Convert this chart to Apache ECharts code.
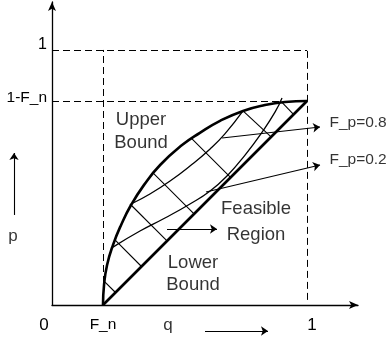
<!DOCTYPE html>
<html>
<head>
<meta charset="utf-8">
<script src="https://cdn.jsdelivr.net/npm/echarts@6/dist/echarts.min.js"></script>
<style>
  html, body { margin: 0; padding: 0; background: #fff; }
  #chart { width: 388px; height: 343px; }
</style>
</head>
<body>
<div id="chart"></div>
<script>
// Feasible region of (q, p) for F_n = 0.2, with the two bounds,
// the F_p = 0.8 / F_p = 0.2 curves and the cross hatching between the bounds.

const FONT = '"Liberation Sans", Arial, sans-serif';

// Axis tick labels
const xTickValues = [0, 0.2, 1];
const xTickText = ['0', 'F_n', '1'];
const yTickValues = [0.8, 1];
const yTickText = ['1-F_n', '1'];

// Upper bound curve, from (F_n, 0) to (1, 1-F_n)
const upperBound = [
  [0.2, 0], [0.204, 0.078], [0.216, 0.157], [0.239, 0.235], [0.271, 0.314],
  [0.31, 0.392], [0.361, 0.471], [0.424, 0.549], [0.51, 0.627], [0.58, 0.675],
  [0.659, 0.722], [0.749, 0.761], [0.835, 0.784], [0.914, 0.796], [1, 0.8]
];

// Lower bound (straight line)
const lowerBound = [[0.2, 0], [1, 0.8]];

// Curve for F_p = 0.8
const curveFp08 = [
  [0.318, 0.4], [0.384, 0.435], [0.463, 0.486], [0.541, 0.545],
  [0.62, 0.612], [0.678, 0.671], [0.749, 0.761]
];

// Curve for F_p = 0.2
const curveFp02 = [
  [0.239, 0.227], [0.345, 0.29], [0.443, 0.341], [0.541, 0.396], [0.62, 0.447],
  [0.69, 0.51], [0.757, 0.588], [0.824, 0.678], [0.875, 0.757], [0.902, 0.812]
];

// Cross hatching between the bounds
const hatches = [
  [[0.206, 0.092], [0.249, 0.049]],
  [[0.247, 0.255], [0.351, 0.151]],
  [[0.306, 0.396], [0.451, 0.251]],
  [[0.398, 0.516], [0.557, 0.357]],
  [[0.547, 0.653], [0.7, 0.5]],
  [[0.749, 0.761], [0.859, 0.659]],
  [[0.902, 0.794], [0.947, 0.747]]
];

// Dashed guide lines
const guides = [
  [[0.2, 0], [0.2, 1]],
  [[1, 0.02], [1, 1]],
  [[0, 1], [1, 1]],
  [[0, 0.8], [1, 0.8]]
];

// Pointer arrows
const arrows = [
  [[0.667, 0.655], [1.051, 0.698]],
  [[0.604, 0.443], [1.051, 0.549]],
  [[0.451, 0.298], [0.647, 0.298]],
  [[0.6, -0.102], [0.847, -0.102]],
  [[-0.149, 0.353], [-0.149, 0.596]]
];

// Text annotations and where they sit
const noteText = ['Upper', 'Bound', 'Lower', 'Bound', 'Feasible', 'Region', 'F_p=0.8', 'F_p=0.2', 'q', 'p'];
const noteAt = [
  [0.349, 0.724], [0.349, 0.637], [0.553, 0.167], [0.553, 0.078],
  [0.8, 0.375], [0.8, 0.276], [1.086, 0.716], [1.086, 0.569],
  [0.455, -0.078], [-0.153, 0.27]
];

function pick(values, texts, v) {
  for (let i = 0; i < values.length; i++) {
    if (Math.abs(values[i] - v) < 1e-6) return i;
  }
  return -1;
}

const xRich = ['{a|', '{b|', '{c|'];
const yRich = ['{a|', '{b|'];

const chart = echarts.init(document.getElementById('chart'), null, { renderer: 'canvas' });

const noteLabel = (t) => {
  if (t.indexOf('F_p') === 0) return { position: 'right', distance: 0, fontSize: 15.5 };
  if (t === 'q' || t === 'p') return { position: 'inside', fontSize: 17 };
  return { position: 'inside', fontSize: 18.5 };
};

chart.setOption({
  animation: false,
  backgroundColor: '#fff',
  grid: { left: 52, top: 2, width: 306, height: 303 },
  xAxis: {
    type: 'value', min: 0, max: 1.2,
    splitLine: { show: false },
    axisTick: { show: false },
    axisLine: {
      show: true, symbol: ['none', 'arrow'], symbolSize: [6, 9],
      lineStyle: { color: '#000', width: 1.3 }
    },
    axisLabel: {
      customValues: xTickValues,
      margin: 12,
      color: '#000',
      fontFamily: FONT,
      formatter: (v) => {
        const i = pick(xTickValues, xTickText, v);
        return i < 0 ? '' : xRich[i] + xTickText[i] + '}';
      },
      rich: {
        a: { fontSize: 17, fontFamily: FONT, color: '#000', padding: [0, 16, 0, 0] },
        b: { fontSize: 15.5, fontFamily: FONT, color: '#000' },
        c: { fontSize: 17, fontFamily: FONT, color: '#000', padding: [0, 0, 0, 10] }
      }
    }
  },
  yAxis: {
    type: 'value', min: 0, max: 1.188,
    splitLine: { show: false },
    axisTick: { show: false },
    axisLine: {
      show: true, symbol: ['none', 'arrow'], symbolSize: [6, 9],
      lineStyle: { color: '#000', width: 1.3 }
    },
    axisLabel: {
      customValues: yTickValues,
      margin: 5,
      color: '#000',
      fontFamily: FONT,
      formatter: (v) => {
        const i = pick(yTickValues, yTickText, v);
        return i < 0 ? '' : yRich[i] + yTickText[i] + '}';
      },
      rich: {
        a: { fontSize: 15.5, fontFamily: FONT, color: '#000', padding: [0, 0, 6, 0] },
        b: { fontSize: 16, fontFamily: FONT, color: '#000', padding: [0, 0, 10, 0] }
      }
    }
  },
  series: [
    {
      name: 'guides', type: 'lines', coordinateSystem: 'cartesian2d', silent: true,
      symbol: 'none', clip: false,
      lineStyle: { color: '#000', width: 1, type: [7, 4], opacity: 1 },
      data: guides.map(c => ({ coords: c }))
    },
    {
      name: 'hatching', type: 'lines', coordinateSystem: 'cartesian2d', silent: true,
      symbol: 'none', clip: false,
      lineStyle: { color: '#000', width: 1.1, opacity: 1 },
      data: hatches.map(c => ({ coords: c }))
    },
    {
      name: 'F_p=0.8', type: 'line', data: curveFp08, smooth: true, symbol: 'none', clip: false,
      lineStyle: { color: '#000', width: 1.3 }
    },
    {
      name: 'F_p=0.2', type: 'line', data: curveFp02, smooth: true, symbol: 'none', clip: false,
      lineStyle: { color: '#000', width: 1.3 }
    },
    {
      name: 'Upper Bound', type: 'line', data: upperBound, smooth: true, symbol: 'none', clip: false,
      lineStyle: { color: '#000', width: 2.6 }
    },
    {
      name: 'Lower Bound', type: 'line', data: lowerBound, symbol: 'none', clip: false,
      lineStyle: { color: '#000', width: 2.6 }
    },
    {
      name: 'arrows', type: 'lines', coordinateSystem: 'cartesian2d', silent: true,
      symbol: ['none', 'arrow'], symbolSize: 7, clip: false,
      lineStyle: { color: '#000', width: 1.1, opacity: 1 },
      data: arrows.map(c => ({ coords: c }))
    },
    {
      name: 'notes', type: 'scatter', symbolSize: 1, clip: false, silent: true,
      itemStyle: { color: 'transparent' },
      label: { show: true, formatter: '{b}', color: '#000', fontFamily: FONT },
      data: noteText.map((t, i) => ({ name: t, value: noteAt[i], label: noteLabel(t) }))
    }
  ]
});
</script>
</body>
</html>
